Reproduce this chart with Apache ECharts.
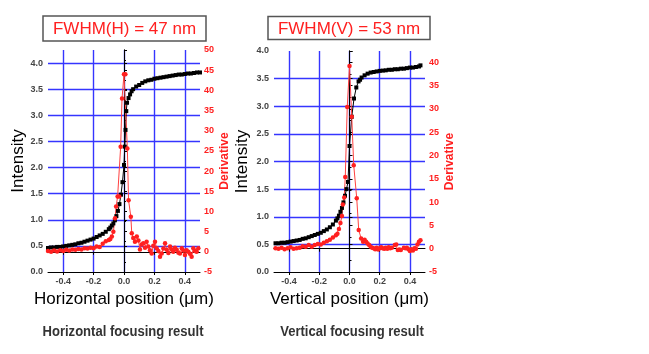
<!DOCTYPE html>
<html>
<head>
<meta charset="utf-8">
<title>Focusing result</title>
<script src="https://cdn.jsdelivr.net/npm/echarts@6/dist/echarts.min.js"></script>
<style>
  html, body { margin: 0; padding: 0; background: #fff; }
  #chart { width: 649px; height: 354px; }
</style>
</head>
<body>
<div id="chart"></div>
<script>
// horizontal scan: intensity
const hIntX = [-0.50,-0.48,-0.46,-0.44,-0.42,-0.40,-0.38,-0.36,-0.34,-0.32,-0.30,-0.28,-0.26,-0.24,-0.22,-0.20,-0.18,-0.16,-0.14,-0.12,-0.10,-0.09,-0.08,-0.07,-0.06,-0.05,-0.04,-0.03,-0.02,-0.01,0.00,0.005,0.01,0.015,0.02,0.03,0.04,0.05,0.06,0.08,0.10,0.12,0.14,0.16,0.18,0.20,0.22,0.24,0.26,0.28,0.30,0.32,0.34,0.36,0.38,0.40,0.42,0.44,0.46,0.48,0.50];
const hIntY = [0.46,0.47,0.47,0.48,0.48,0.49,0.50,0.51,0.52,0.53,0.55,0.56,0.58,0.60,0.62,0.64,0.67,0.70,0.73,0.77,0.82,0.85,0.89,0.93,0.99,1.07,1.17,1.30,1.48,1.72,2.05,2.40,2.72,3.08,3.24,3.33,3.40,3.46,3.50,3.55,3.58,3.62,3.65,3.67,3.68,3.70,3.71,3.72,3.73,3.74,3.75,3.76,3.77,3.78,3.78,3.79,3.80,3.80,3.81,3.82,3.82];
// horizontal scan: derivative
const hDerX = [-0.50,-0.48,-0.46,-0.44,-0.42,-0.40,-0.38,-0.36,-0.34,-0.32,-0.30,-0.28,-0.26,-0.24,-0.22,-0.20,-0.18,-0.16,-0.14,-0.12,-0.10,-0.09,-0.08,-0.07,-0.059,-0.052,-0.042,-0.031,-0.022,-0.013,0.00,0.009,0.022,0.03,0.045,0.051,0.061,0.072,0.084,0.095,0.105,0.116,0.127,0.138,0.149,0.16,0.171,0.182,0.193,0.204,0.215,0.226,0.237,0.248,0.259,0.27,0.281,0.292,0.303,0.314,0.324,0.335,0.347,0.358,0.368,0.38,0.39,0.401,0.412,0.423,0.434,0.445,0.456,0.467,0.478,0.489];
const hDerY = [0.2,0.0,0.3,0.1,0.4,0.2,0.5,0.3,0.6,0.5,0.7,0.6,0.9,0.8,1.0,0.9,1.3,1.2,2.0,2.6,2.9,3.2,3.8,5.0,8.3,11.2,13.7,13.7,26.0,38.0,44.0,44.0,25.6,12.8,8.7,4.6,3.4,2.5,3.8,2.8,0.6,1.8,2.1,1.0,2.5,1.3,0.4,-0.4,1.5,2.5,0.9,0.2,-1.2,-0.4,0.8,2.1,0.5,-0.3,1.3,0.6,0.0,1.0,0.5,-0.2,-0.4,0.9,0.3,-0.8,0.4,0.0,-0.5,-1.2,0.9,0.2,0.0,0.9];
// vertical scan: intensity
const vIntX = [-0.49,-0.47,-0.45,-0.43,-0.41,-0.39,-0.37,-0.35,-0.33,-0.31,-0.29,-0.27,-0.25,-0.23,-0.21,-0.19,-0.17,-0.15,-0.13,-0.11,-0.09,-0.08,-0.07,-0.06,-0.05,-0.04,-0.03,-0.02,-0.01,0.00,0.015,0.03,0.045,0.06,0.07,0.08,0.10,0.12,0.14,0.16,0.18,0.20,0.22,0.24,0.26,0.28,0.30,0.32,0.34,0.36,0.38,0.40,0.42,0.44,0.46,0.47];
const vIntY = [0.52,0.52,0.53,0.53,0.54,0.55,0.56,0.57,0.58,0.60,0.61,0.63,0.65,0.67,0.69,0.71,0.74,0.77,0.81,0.86,0.93,0.97,1.02,1.09,1.16,1.26,1.38,1.50,1.63,2.28,2.81,3.14,3.34,3.45,3.48,3.52,3.56,3.59,3.61,3.62,3.63,3.64,3.645,3.65,3.66,3.66,3.67,3.67,3.68,3.68,3.69,3.70,3.70,3.71,3.72,3.74];
// vertical scan: derivative
const vDerX = [-0.49,-0.47,-0.45,-0.43,-0.41,-0.39,-0.37,-0.35,-0.33,-0.31,-0.29,-0.27,-0.25,-0.23,-0.21,-0.19,-0.17,-0.15,-0.13,-0.11,-0.09,-0.08,-0.07,-0.06,-0.05,-0.044,-0.035,-0.028,-0.015,0.00,0.015,0.028,0.048,0.061,0.077,0.09,0.10,0.11,0.12,0.13,0.14,0.15,0.16,0.17,0.18,0.19,0.20,0.21,0.22,0.23,0.24,0.25,0.26,0.27,0.28,0.30,0.31,0.32,0.33,0.34,0.36,0.37,0.38,0.39,0.40,0.41,0.42,0.43,0.44,0.45,0.46,0.47];
const vDerY = [0.1,0.0,0.2,-0.1,0.1,0.3,0.0,0.1,0.2,0.5,0.4,0.8,0.4,0.8,1.0,0.9,1.3,1.6,1.9,2.4,2.9,3.2,4.2,5.5,7.0,9.5,11.0,15.4,30.4,39.2,28.3,17.9,10.8,4.0,2.2,1.5,1.9,1.5,1.1,0.8,0.4,0.2,0.1,-0.1,0.2,-0.2,0.1,0.3,0.1,0.0,0.2,0.0,0.3,0.1,0.2,0.8,0.9,-0.3,-0.2,-0.3,0.2,0.1,0.2,-0.1,-0.5,-0.1,-0.4,0.1,0.0,0.9,1.5,1.8];

const xTicks = [-0.4, -0.2, 0.0, 0.2, 0.4];

const zip = (xs, ys) => xs.map((x, i) => [x, ys[i]]);

const BLUE = '#3535ff';
const RED = '#ff2020';
const FONT = 'Liberation Sans';
const LABEL = { fontSize: 9, fontWeight: 'bold', color: '#444' };

function xAxisFor(gi, name) {
  return {
    type: 'value', gridIndex: gi, min: -0.5, max: 0.5,
    axisLine: { lineStyle: { color: '#000', width: 1 } },
    axisTick: { customValues: xTicks, length: 3, lineStyle: { color: '#000' } },
    axisLabel: Object.assign({ customValues: xTicks, formatter: v => v.toFixed(1), margin: 5 }, LABEL),
    splitLine: { show: true, lineStyle: { color: BLUE, width: 1.4 } },
    name: name, nameLocation: 'middle', nameGap: 17,
    nameTextStyle: { fontSize: 17, color: '#000', fontFamily: FONT }
  };
}
function topAxisFor(gi) {
  return {
    type: 'value', gridIndex: gi, position: 'top', min: -0.5, max: 0.5,
    axisLine: { lineStyle: { color: '#000', width: 1 } },
    axisTick: { customValues: xTicks, inside: true, length: 3, lineStyle: { color: '#000' } },
    axisLabel: { show: false }, splitLine: { show: false }
  };
}
function intAxisFor(gi, max, gap) {
  return {
    type: 'value', gridIndex: gi, position: 'left', min: 0, max: max, interval: 0.5,
    axisLine: { show: true, lineStyle: { color: '#000', width: 1 } },
    axisTick: { show: true, inside: true, length: 3, lineStyle: { color: '#000' } },
    axisLabel: Object.assign({ formatter: v => v.toFixed(1), margin: 5, showMaxLabel: max === 4 }, LABEL),
    splitLine: { show: true, showMinLine: false, showMaxLine: false, lineStyle: { color: BLUE, width: 1.4 } },
    name: 'Intensity', nameLocation: 'middle', nameGap: gap, nameRotate: 90,
    nameTextStyle: { fontSize: 17, color: '#000', fontFamily: FONT }
  };
}
function derAxisFor(gi, max) {
  return {
    type: 'value', gridIndex: gi, position: 'right', min: -5, max: max, interval: 5,
    axisLine: { show: true, lineStyle: { color: '#000', width: 1 } },
    axisTick: { show: true, length: 3, lineStyle: { color: '#000' } },
    minorTick: { show: true, splitNumber: 2, length: 2, lineStyle: { color: '#000' } },
    axisLabel: Object.assign({}, LABEL, { color: RED, margin: 4, showMaxLabel: max === 50 }),
    splitLine: { show: false },
    name: 'Derivative', nameLocation: 'middle', nameGap: 19, nameRotate: 90,
    nameTextStyle: { fontSize: 12, fontWeight: 'bold', color: RED, fontFamily: FONT }
  };
}
function intSeries(xi, yi, data) {
  return {
    type: 'line', xAxisIndex: xi, yAxisIndex: yi, data: data,
    symbol: 'rect', symbolSize: 4, showAllSymbol: true,
    itemStyle: { color: '#000' }, lineStyle: { color: '#000', width: 1 }
  };
}
function derSeries(xi, yi, data) {
  return {
    type: 'line', xAxisIndex: xi, yAxisIndex: yi, data: data,
    symbol: 'circle', symbolSize: 4.5, showAllSymbol: true,
    itemStyle: { color: RED }, lineStyle: { color: '#ff4040', width: 1 }
  };
}
function titleBox(x, y, w, h, text) {
  return {
    type: 'group', children: [
      { type: 'rect', shape: { x: x, y: y, width: w, height: h },
        style: { fill: '#fff', stroke: '#555', lineWidth: 1.5 } },
      { type: 'text', x: x + w / 2, y: y + h / 2 + 1,
        style: { text: text, fill: RED, font: '17px "Liberation Sans"', align: 'center', verticalAlign: 'middle' } }
    ]
  };
}
function caption(x, y, text) {
  return {
    type: 'text', x: x, y: y, scaleX: 0.9,
    style: { text: text, fill: '#333', font: 'bold 14.5px "Liberation Sans"', align: 'center', verticalAlign: 'middle' }
  };
}

const chart = echarts.init(document.getElementById('chart'));
chart.setOption({
  animation: false,
  textStyle: { fontFamily: FONT },
  grid: [
    { left: 48, top: 50, width: 152, height: 222 },
    { left: 274, top: 51, width: 151, height: 221 }
  ],
  xAxis: [
    xAxisFor(0, 'Horizontal position (μm)'),
    xAxisFor(1, 'Vertical position (μm)'),
    topAxisFor(0),
    topAxisFor(1)
  ],
  yAxis: [
    intAxisFor(0, 4.25, 20),
    derAxisFor(0, 50),
    intAxisFor(1, 4, 23),
    derAxisFor(1, 42.4)
  ],
  series: [
    intSeries(0, 0, zip(hIntX, hIntY)),
    derSeries(0, 1, zip(hDerX, hDerY)),
    intSeries(1, 2, zip(vIntX, vIntY)),
    derSeries(1, 3, zip(vDerX, vDerY))
  ],
  graphic: [
    titleBox(43, 16, 163, 25, 'FWHM(H) = 47 nm'),
    titleBox(268, 16.5, 162, 23, 'FWHM(V) = 53 nm'),
    caption(123, 332, 'Horizontal focusing result'),
    caption(352, 332, 'Vertical focusing result')
  ]
});
</script>
</body>
</html>
